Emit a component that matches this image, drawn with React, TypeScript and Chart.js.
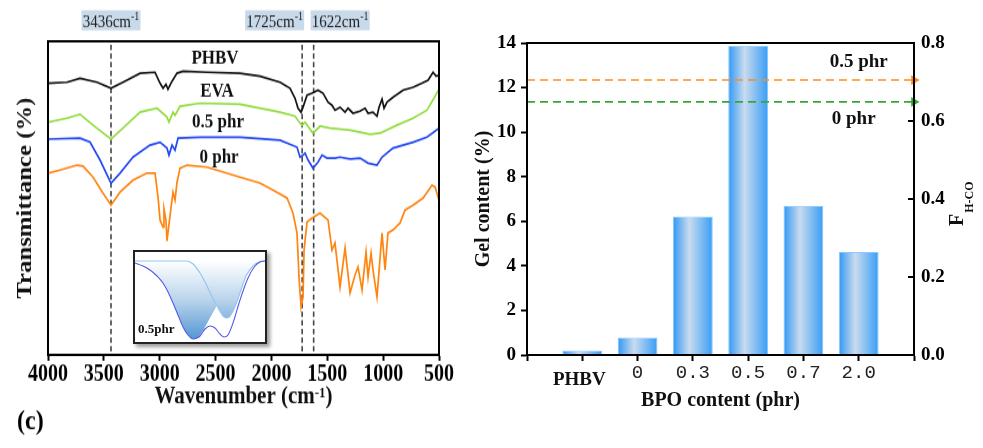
import React, { useEffect, useRef } from 'react';
import { Chart, registerables } from 'chart.js';

Chart.register(...registerables);

const SERIF = '"Liberation Serif", "Times New Roman", Times, serif';
const MONO = '"Liberation Mono", "DejaVu Sans Mono", monospace';

// ---------- (left) FTIR spectra: wavenumber (cm-1) vs transmittance (arb. units) ----------
const phbvWn = [4000, 3830, 3714, 3561, 3436, 3329, 3176, 3042, 2997, 2970, 2944, 2926, 2890, 2845, 2791, 2577, 2281, 2102, 1923, 1834, 1789, 1762, 1735, 1717, 1681, 1637, 1583, 1538, 1493, 1458, 1431, 1386, 1341, 1314, 1270, 1207, 1162, 1135, 1091, 1055, 1037, 1010, 992, 965, 912, 822, 732, 652, 598, 553, 526, 500];
const phbvT = [272, 273, 277, 273, 267, 273, 282, 283, 272, 267, 271, 266, 274, 282, 284, 283, 282, 279, 273, 267, 257, 247, 243, 248, 260, 262, 265, 262, 253, 250, 245, 248, 243, 247, 242, 244, 247, 242, 243, 239, 248, 256, 247, 253, 258, 265, 268, 272, 275, 283, 279, 280];

const evaWn = [4000, 3830, 3714, 3597, 3436, 3329, 3176, 3024, 2935, 2917, 2881, 2863, 2818, 2639, 2281, 1923, 1789, 1744, 1725, 1699, 1628, 1565, 1476, 1296, 1117, 1028, 876, 732, 607, 500];
const evaT = [233, 237, 241, 230, 216, 227, 243, 247, 238, 233, 243, 240, 249, 252, 251, 243, 239, 232, 230, 233, 222, 229, 227, 225, 221, 222, 230, 237, 245, 266];

const phr05Wn = [4000, 3714, 3624, 3534, 3436, 3355, 3239, 3087, 2997, 2935, 2917, 2890, 2863, 2836, 2639, 2281, 1923, 1771, 1744, 1717, 1699, 1672, 1628, 1583, 1547, 1502, 1431, 1386, 1296, 1207, 1135, 1055, 1010, 912, 732, 607, 500];
const phr05T = [216, 217, 213, 195, 172, 182, 198, 210, 213, 207, 200, 210, 205, 217, 218, 218, 215, 208, 198, 200, 202, 195, 187, 193, 200, 197, 197, 198, 196, 197, 192, 190, 198, 207, 213, 218, 227];

const phr0Wn = [4000, 3893, 3740, 3687, 3597, 3508, 3436, 3355, 3239, 3114, 3042, 3015, 2997, 2970, 2962, 2944, 2935, 2899, 2881, 2863, 2845, 2818, 2756, 2577, 2281, 2102, 1986, 1860, 1807, 1771, 1753, 1735, 1717, 1708, 1681, 1637, 1565, 1493, 1458, 1431, 1386, 1341, 1296, 1252, 1225, 1189, 1153, 1135, 1108, 1091, 1055, 1010, 983, 957, 912, 849, 804, 732, 643, 562, 535, 500];
const phr0T = [182, 185, 190, 189, 178, 162, 150, 163, 175, 182, 182, 158, 135, 128, 146, 135, 114, 147, 163, 155, 173, 187, 190, 188, 178, 172, 165, 157, 142, 122, 78, 48, 58, 105, 133, 137, 142, 135, 105, 112, 68, 107, 62, 80, 88, 65, 103, 78, 102, 85, 58, 122, 85, 122, 125, 132, 145, 150, 157, 170, 168, 155];

const seriesNames = ['PHBV', 'EVA', '0.5 phr', '0 phr'];
const seriesLabelWn = [2505, 2487, 2478, 2469];
const seriesLabelT = [292, 258, 228, 192];
const markerWn = [3436, 1725, 1622];
const markerBoxAlign = ['center', 'right', 'left'];
const wnTicksMin = 500;
const wnTicksMax = 4000;

// ---------- inset (0.5 phr peak fit, arbitrary units) ----------
const insetSumX = [2, 10, 17, 24, 30, 35, 40, 45, 50, 55, 60, 64, 67, 72, 77, 82, 87, 91, 95, 100, 107, 115, 122, 127, 132];
const insetSumY = [-2, -5, -9, -15, -22, -31, -42, -54, -66, -74, -78, -77, -75, -68, -65, -67, -73, -76, -74, -62, -39, -17, -5, -1, 0];
const insetAX = [2, 10, 17, 24, 30, 35, 40, 45, 50, 55, 60, 64, 67, 72, 77, 82, 87, 92, 97, 105, 115, 125, 132];
const insetAY = [-2, -5, -9, -15, -22, -31, -42, -54, -66, -74, -78, -77, -74, -66, -57, -48, -38, -28, -19, -8, -2, 0, 0];
const insetBX = [2, 54, 60, 67, 74, 80, 84, 88, 91, 94, 97, 101, 107, 113, 120, 126, 132];
const insetBY = [0, 0, -3, -12, -25, -38, -45, -52, -56, -57, -55, -48, -32, -15, -5, -1, 0];

// ---------- (right) gel content & F(H-CO) ----------
const bpoLabels = ['PHBV', '0', '0.3', '0.5', '0.7', '2.0'];
const gelContent = [0.2, 0.78, 6.22, 13.88, 6.7, 4.62];
const fhcoNames = ['0.5 phr', '0 phr'];
const fhcoValues = [0.705, 0.649];
const fhcoLabelGel = [13.15, 10.6];

// vertical stretch of the left panel (drawn compressed, displayed at full height)
const LH = 380;
const K = 448 / LH;

const pairs = (xs: number[], ys: number[]) => xs.map((x, i) => ({ x, y: ys[i] }));
const fixW = (w: number) => (s: any) => { s.width = w; s.paddingTop = 0; s.paddingBottom = 0; s.paddingLeft = 0; s.paddingRight = 0; };
const fixH = (h: number) => (s: any) => { s.height = h; s.paddingTop = 0; s.paddingBottom = 0; s.paddingLeft = 0; s.paddingRight = 0; };
const fin = (...v: number[]) => v.every((n) => Number.isFinite(n));

type Part = { t: string; size: number; dy?: number };
function drawParts(ctx: CanvasRenderingContext2D, parts: Part[], x: number, y: number, weight: string, align: string) {
  let total = 0;
  for (const p of parts) { ctx.font = `${weight} ${p.size}px ${SERIF}`; total += ctx.measureText(p.t).width; }
  let cx = align === 'center' ? x - total / 2 : align === 'right' ? x - total : x;
  ctx.textAlign = 'left';
  ctx.textBaseline = 'alphabetic';
  for (const p of parts) {
    ctx.font = `${weight} ${p.size}px ${SERIF}`;
    ctx.fillText(p.t, cx, y + (p.dy || 0));
    cx += ctx.measureText(p.t).width;
  }
}

const leftDecor = {
  id: 'leftDecor',
  beforeDatasetsDraw(chart: any) {
    const { ctx, chartArea: a, scales } = chart;
    ctx.save();
    ctx.strokeStyle = '#444';
    ctx.lineWidth = 1.6;
    ctx.setLineDash([4.5, 2.8]);
    for (const w of markerWn) {
      const px = scales.x.getPixelForValue(w);
      ctx.beginPath();
      ctx.moveTo(px, a.top + 3);
      ctx.lineTo(px, a.bottom);
      ctx.stroke();
    }
    ctx.restore();
  },
  afterDraw(chart: any) {
    const { ctx, chartArea: a, scales } = chart;
    const xs = scales.x, ys = scales.y;
    ctx.save();
    ctx.setLineDash([]);
    ctx.strokeStyle = '#000';
    ctx.lineWidth = 2;
    ctx.strokeRect(a.left, a.top, a.right - a.left, a.bottom - a.top);

    const bw = 59, bh = 20 / K, top = a.top - 31 / K;
    markerWn.forEach((w, i) => {
      const px = xs.getPixelForValue(w);
      const al = markerBoxAlign[i];
      const left = al === 'center' ? px - bw / 2 : al === 'right' ? px + 2 - bw : px - 3;
      ctx.fillStyle = '#c8d9ea';
      ctx.fillRect(left, top, bw, bh);
      ctx.fillStyle = '#222';
      drawParts(ctx, [{ t: `${w}cm`, size: 15 }, { t: '-1', size: 10, dy: -6 }], left + bw / 2, top + 14.5, 'normal', 'center');
    });

    ctx.fillStyle = '#111';
    ctx.font = `bold 17px ${SERIF}`;
    ctx.textAlign = 'center';
    ctx.textBaseline = 'alphabetic';
    seriesNames.forEach((n, i) => ctx.fillText(n, xs.getPixelForValue(seriesLabelWn[i]), ys.getPixelForValue(seriesLabelT[i])));

    ctx.fillStyle = '#111';
    drawParts(ctx, [{ t: 'Wavenumber (cm', size: 21 }, { t: '-1', size: 13, dy: -5 }, { t: ')', size: 21 }], (a.left + a.right) / 2, a.bottom + 48 / K, 'bold', 'center');

    ctx.save();
    ctx.translate(26, (a.top + a.bottom) / 2);
    ctx.rotate(-Math.PI / 2);
    ctx.font = `bold 21px ${SERIF}`;
    ctx.textAlign = 'center';
    ctx.textBaseline = 'middle';
    ctx.fillText('Transmittance (%)', 0, 0);
    ctx.restore();

    ctx.font = `bold 24px ${SERIF}`;
    ctx.textAlign = 'left';
    ctx.textBaseline = 'alphabetic';
    ctx.fillStyle = '#000';
    ctx.fillText('(c)', 17, 429 / K);
    ctx.restore();
  },
};

const insetDecor = {
  id: 'insetDecor',
  afterDatasetsDraw(chart: any) {
    const { ctx, chartArea: a } = chart;
    ctx.save();
    ctx.fillStyle = '#111';
    ctx.font = `bold 13px ${SERIF}`;
    ctx.textAlign = 'left';
    ctx.textBaseline = 'alphabetic';
    ctx.fillText('0.5phr', a.left + 3, a.top + 81);
    ctx.restore();
  },
};

const rightDecor = {
  id: 'rightDecor',
  afterDraw(chart: any) {
    const { ctx, chartArea: a, scales } = chart;
    const xs = scales.x, y = scales.y, y1 = scales.y1;
    ctx.save();
    ctx.strokeStyle = '#000';
    ctx.lineWidth = 2;
    ctx.strokeRect(a.left, a.top, a.right - a.left, a.bottom - a.top);
    y1.ticks.forEach((t: any) => {
      const py = y1.getPixelForValue(t.value);
      ctx.beginPath();
      ctx.moveTo(a.right - 6, py);
      ctx.lineTo(a.right, py);
      ctx.stroke();
    });

    ctx.textAlign = 'center';
    ctx.textBaseline = 'alphabetic';
    bpoLabels.forEach((lab, i) => {
      const px = xs.getPixelForValue(i + 1);
      if (i === 0) {
        ctx.fillStyle = '#111';
        ctx.font = `bold 19px ${SERIF}`;
        ctx.fillText(lab, px - 3, a.bottom + 30);
      } else {
        ctx.fillStyle = '#222';
        ctx.font = `19px ${MONO}`;
        ctx.fillText(lab, px, a.bottom + 23);
      }
    });

    ctx.fillStyle = '#111';
    ctx.font = `bold 20px ${SERIF}`;
    ctx.fillText('BPO content (phr)', (a.left + a.right) / 2, a.bottom + 51);

    ctx.save();
    ctx.translate(24, (a.top + a.bottom) / 2);
    ctx.rotate(-Math.PI / 2);
    ctx.textBaseline = 'middle';
    ctx.fillText('Gel content (%)', 0, 0);
    ctx.restore();

    ctx.save();
    ctx.translate(a.right + 49, (a.top + a.bottom) / 2 + 27);
    ctx.rotate(-Math.PI / 2);
    ctx.textAlign = 'left';
    ctx.textBaseline = 'alphabetic';
    ctx.font = `bold 20px ${SERIF}`;
    ctx.fillText('F', 0, 0);
    const wF = ctx.measureText('F').width;
    ctx.font = `bold 12px ${SERIF}`;
    ctx.fillText('H-CO', wF + 1, 10);
    ctx.restore();

    ctx.font = `bold 19px ${SERIF}`;
    ctx.textAlign = 'center';
    ctx.textBaseline = 'middle';
    const lx = xs.getPixelForValue(bpoLabels.length);
    fhcoNames.forEach((n, i) => ctx.fillText(n, lx - i * 5, y.getPixelForValue(fhcoLabelGel[i])));
    ctx.restore();
  },
};

const tickFont = (size: number) => ({ family: SERIF, size, weight: 'bold' as const });

export default function App() {
  const leftRef = useRef<HTMLCanvasElement>(null);
  const insetRef = useRef<HTMLCanvasElement>(null);
  const rightRef = useRef<HTMLCanvasElement>(null);

  useEffect(() => {
    Chart.defaults.font.family = SERIF;
    Chart.defaults.color = '#000';
    const charts: Chart[] = [];

    const lineDs = (label: string, xs: number[], ys: number[], color: string) => ({
      label, data: pairs(xs, ys), borderColor: color, borderWidth: 1.7, pointRadius: 0, tension: 0, fill: false,
    });

    charts.push(new Chart(leftRef.current as HTMLCanvasElement, {
      type: 'line',
      data: {
        datasets: [
          lineDs('PHBV', phbvWn, phbvT, '#111111'),
          lineDs('EVA', evaWn, evaT, '#92dc3f'),
          lineDs('0.5 phr', phr05Wn, phr05T, '#2348f2'),
          lineDs('0 phr', phr0Wn, phr0T, '#ff8410'),
        ],
      },
      options: {
        responsive: false,
        animation: false,
        events: [],
        layout: { padding: { left: 0, right: 21, top: 35, bottom: 28 } },
        plugins: { legend: { display: false }, tooltip: { enabled: false } },
        scales: {
          x: {
            type: 'linear', reverse: true, min: wnTicksMin, max: wnTicksMax,
            ticks: { stepSize: 500, autoSkip: false, maxRotation: 0, color: '#000', font: tickFont(20), padding: 0, callback: (v: any) => String(v) },
            grid: { drawOnChartArea: false, drawTicks: true, tickLength: 5, tickWidth: 2, tickColor: '#000' },
            border: { color: '#000', width: 2 },
            afterFit: fixH(51),
          },
          y: {
            min: 0, max: 314,
            ticks: { display: false },
            grid: { display: false },
            border: { color: '#000', width: 2 },
            afterFit: fixW(48),
          },
        },
      } as any,
      plugins: [leftDecor],
    }));

    const insetGrad = (c: any) => {
      const ch = c.chart;
      const ys = ch.scales && ch.scales.y;
      if (!ch.chartArea || !ys) return 'rgba(120,175,222,0.6)';
      const y0 = ys.getPixelForValue(0);
      const y1 = ys.getPixelForValue(-78);
      if (!fin(y0, y1) || y0 === y1) return 'rgba(120,175,222,0.6)';
      const g = ch.ctx.createLinearGradient(0, y0, 0, y1);
      g.addColorStop(0, 'rgba(255,255,255,1)');
      g.addColorStop(0.5, 'rgb(185,212,236)');
      g.addColorStop(1, 'rgb(84,150,210)');
      return g;
    };

    charts.push(new Chart(insetRef.current as HTMLCanvasElement, {
      type: 'line',
      data: {
        datasets: [
          { data: pairs(insetSumX, insetSumY), borderColor: '#5757ee', borderWidth: 1.1, fill: false, order: 0 },
          { data: pairs(insetBX, insetBY), borderColor: '#96c6ec', borderWidth: 1.2, fill: 'origin', backgroundColor: insetGrad, order: 1 },
          { data: pairs(insetAX, insetAY), borderColor: 'rgba(0,0,0,0)', borderWidth: 0, fill: 'origin', backgroundColor: insetGrad, order: 2 },
        ],
      },
      options: {
        responsive: false,
        animation: false,
        events: [],
        layout: { padding: 0 },
        elements: { point: { radius: 0 }, line: { cubicInterpolationMode: 'monotone' } },
        plugins: { legend: { display: false }, tooltip: { enabled: false } },
        scales: {
          x: { type: 'linear', display: false, min: 2, max: 132 },
          y: { display: false, min: -81, max: 9 },
        },
      } as any,
      plugins: [insetDecor],
    }));

    const barGrad = (c: any) => {
      const ch = c.chart;
      const xs = ch.scales && ch.scales.x;
      if (!xs || !ch.chartArea || c.dataIndex === undefined) return '#2a97f7';
      const cx = xs.getPixelForValue(c.dataIndex);
      const half = Math.abs(xs.getPixelForValue(1) - xs.getPixelForValue(0)) * 0.4;
      if (!fin(cx, half) || half === 0) return '#2a97f7';
      const g = ch.ctx.createLinearGradient(cx - half, 0, cx + half, 0);
      g.addColorStop(0, '#1c8ef5');
      g.addColorStop(0.42, '#c9dbee');
      g.addColorStop(1, '#2a97f7');
      return g;
    };

    const nCat = bpoLabels.length + 2;
    const refLine = (v: number, color: string) => ({
      type: 'line', parsing: false, yAxisID: 'y1', clip: false,
      data: [{ x: 0, y: v }, { x: nCat - 1, y: v }],
      borderColor: color, borderWidth: 1.6, borderDash: [8, 5],
      pointRadius: [0, 4], pointStyle: 'triangle', pointRotation: 90,
      pointBackgroundColor: color, pointBorderColor: color, order: 0,
    });

    charts.push(new Chart(rightRef.current as HTMLCanvasElement, {
      type: 'bar',
      data: {
        labels: ['', ...bpoLabels, ''],
        datasets: [
          refLine(fhcoValues[0], '#ff8c1a') as any,
          refLine(fhcoValues[1], '#34a835') as any,
          {
            type: 'bar', yAxisID: 'y', data: [null, ...gelContent, null],
            backgroundColor: barGrad, borderColor: '#86c8ff', borderWidth: 1, order: 2,
          },
        ],
      },
      options: {
        responsive: false,
        animation: false,
        events: [],
        layout: { padding: { left: 0, right: 0, top: 43, bottom: 33 } },
        plugins: { legend: { display: false }, tooltip: { enabled: false } },
        scales: {
          x: {
            type: 'category', offset: false,
            grid: { offset: false, drawOnChartArea: false, drawTicks: true, tickLength: 6, tickWidth: 2, tickColor: '#000' },
            ticks: { autoSkip: false, maxRotation: 0, callback: () => '' },
            border: { color: '#000', width: 2 },
            afterFit: fixH(60),
          },
          y: {
            position: 'left', min: 0, max: 14,
            ticks: { stepSize: 2, padding: 5, color: '#000', font: tickFont(19) },
            grid: { drawOnChartArea: false, tickLength: 6, tickWidth: 2, tickColor: '#000' },
            border: { color: '#000', width: 2 },
            afterFit: fixW(67),
          },
          y1: {
            position: 'right', min: 0, max: 0.8,
            ticks: { stepSize: 0.2, padding: 7, color: '#000', font: tickFont(19), callback: (v: any) => Number(v).toFixed(1) },
            grid: { drawOnChartArea: false, drawTicks: false },
            border: { color: '#000', width: 2 },
            afterFit: fixW(69),
          },
        },
      } as any,
      plugins: [rightDecor],
    }));

    return () => charts.forEach((c) => c.destroy());
  }, []);

  return (
    <div style={{ position: 'fixed', left: 0, top: 0, width: 983, height: 448, background: '#fff', overflow: 'hidden' }}>
      <canvas ref={leftRef} width={460} height={LH} style={{ position: 'absolute', left: 0, top: 0, width: 460, height: 448 }} />
      <div style={{ position: 'absolute', left: 133, top: 250, width: 134, height: 94, boxSizing: 'border-box', border: '2px solid #222', background: '#fff', boxShadow: '3px 3px 4px rgba(0,0,0,0.4)' }}>
        <canvas ref={insetRef} width={130} height={90} style={{ display: 'block', width: 130, height: 90 }} />
      </div>
      <canvas ref={rightRef} width={523} height={448} style={{ position: 'absolute', left: 460, top: 0, width: 523, height: 448 }} />
    </div>
  );
}
